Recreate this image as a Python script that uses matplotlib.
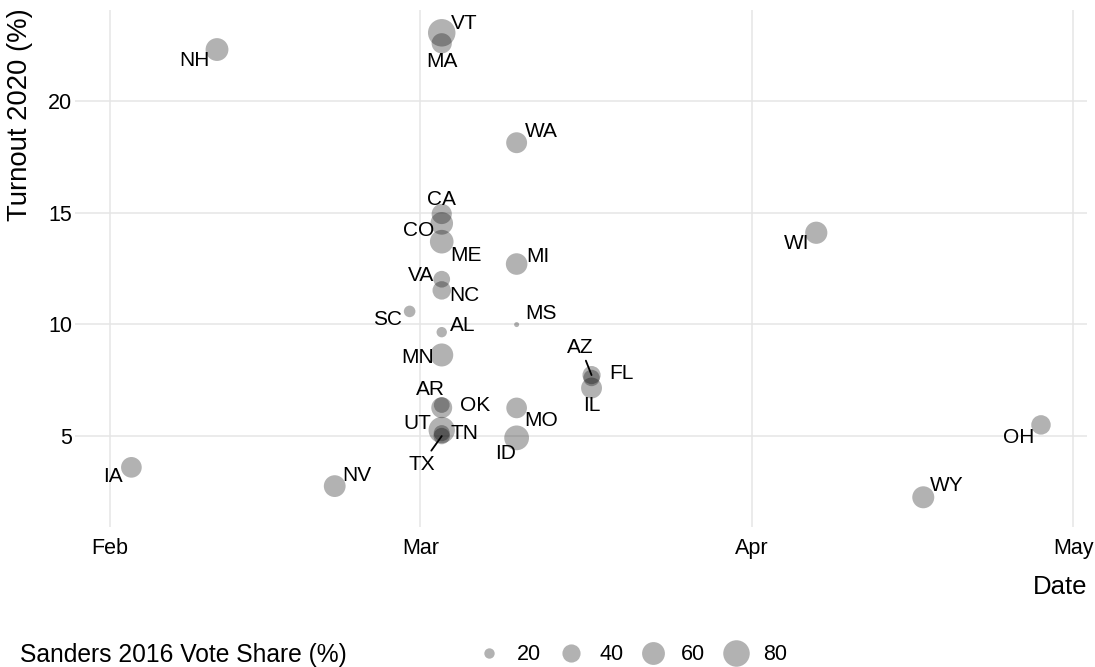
import matplotlib

matplotlib.use("Agg")

import matplotlib.dates as mdates
import matplotlib.pyplot as plt
import numpy as np
import pandas as pd
from matplotlib.lines import Line2D

plt.rcParams["font.family"] = ["Liberation Sans", "DejaVu Sans"]

# --- data ------------------------------------------------------------------
states = ["IA", "NH", "NV", "SC",
          "AL", "AR", "CA", "CO", "ME", "MA", "MN", "NC", "OK", "TN", "TX",
          "UT", "VT", "VA",
          "ID", "MI", "MS", "MO", "WA",
          "AZ", "FL", "IL",
          "WI", "WY", "OH"]
dates = ["2020-02-03", "2020-02-11", "2020-02-22", "2020-02-29",
         "2020-03-03", "2020-03-03", "2020-03-03", "2020-03-03", "2020-03-03",
         "2020-03-03", "2020-03-03", "2020-03-03", "2020-03-03", "2020-03-03",
         "2020-03-03", "2020-03-03", "2020-03-03", "2020-03-03",
         "2020-03-10", "2020-03-10", "2020-03-10", "2020-03-10", "2020-03-10",
         "2020-03-17", "2020-03-17", "2020-03-17",
         "2020-04-07", "2020-04-17", "2020-04-28"]
turnout = [3.6, 22.3, 2.76, 10.58,
           9.65, 6.39, 14.94, 14.52, 13.7, 22.58, 8.63, 11.52, 6.27, 5.13, 5.0,
           5.27, 23.05, 12.02,
           4.92, 12.7, 9.99, 6.26, 18.13,
           7.73, 7.6, 7.15,
           14.1, 2.26, 5.5]
sanders_2016 = [50, 60, 55, 22,
                20, 32, 48, 59, 64, 48, 61, 41, 51, 33, 34,
                79, 86, 35,
                70, 54, 16, 50, 51,
                40, 34, 51,
                57, 56, 45]
legend_breaks = [20, 40, 60, 80]

# label offsets from the point, in pixels (dx right, dy up)
label_offsets = {
    "IA": (-18, -9), "NH": (-23, -11), "NV": (22, 11), "SC": (-22, -8),
    "VT": (22, 9), "MA": (0, -18), "CA": (0, 14), "CO": (-23, -7),
    "ME": (24, -14), "VA": (-21, 4), "NC": (23, -5), "AL": (21, 7),
    "MN": (-24, -3), "AR": (-11, 16), "OK": (33, 2), "UT": (-24, 7),
    "TN": (23, 0), "TX": (-20, -28), "MI": (21, 8), "MS": (24, 11),
    "MO": (24, -13), "ID": (-11, -16), "WA": (25, 11), "AZ": (-11, 28),
    "FL": (30, 4), "IL": (0, -17), "WI": (-20, -11), "WY": (23, 12),
    "OH": (-22, -13),
}
leader_lines = {"TX", "AZ"}

x = pd.to_datetime(dates)
vmin, vmax = min(sanders_2016), max(sanders_2016)


def marker_diameter(v):
    # ggplot-style area scale: diameter 5..27.5 px
    frac = np.sqrt((np.asarray(v, dtype=float) - vmin) / (vmax - vmin))
    return (5 + 22.5 * frac) * 0.72  # points at 100 dpi


PX = 0.72  # one pixel in points at 100 dpi

fig = plt.figure(figsize=(10.95, 6.67), dpi=100)
ax = fig.add_axes([75 / 1095, 1 - 527 / 667, 1012 / 1095, 517 / 667])

ax.scatter(x, turnout, s=marker_diameter(sanders_2016) ** 2,
           color="black", alpha=0.3, linewidths=0, zorder=3)

for st, xi, yi in zip(states, x, turnout):
    dx, dy = label_offsets[st]
    arrow = None
    if st in leader_lines:
        arrow = dict(arrowstyle="-", color="black", lw=1.3, shrinkA=1, shrinkB=0)
    ax.annotate(st, (xi, yi), xytext=(dx * PX, dy * PX), textcoords="offset points",
                ha="center", va="center", fontsize=15, color="black",
                arrowprops=arrow, zorder=4)

ax.set_xlim(pd.Timestamp("2020-02-01") - pd.Timedelta(days=3.27),
            pd.Timestamp("2020-05-01") + pd.Timedelta(days=1.3))
ax.set_ylim(0.93, 24.07)
ax.xaxis.set_major_locator(mdates.MonthLocator())
ax.xaxis.set_major_formatter(mdates.DateFormatter("%b"))
ax.set_yticks([5, 10, 15, 20])

ax.grid(True, color="#e5e5e5", linewidth=1.1)
ax.set_axisbelow(True)
for sp in ax.spines.values():
    sp.set_visible(False)
ax.tick_params(length=0, labelsize=15.5, colors="black")
ax.tick_params(axis="x", pad=8)
ax.tick_params(axis="y", pad=2)

ax.set_xlabel("Date", fontsize=18.5, ha="right", va="top")
ax.xaxis.set_label_coords(1.0, -0.093)
# y label is drawn with rotation_mode="anchor": ha runs along the text
ax.set_ylabel("Turnout 2020 (%)", fontsize=19.8, ha="right", va="center")
ax.yaxis.set_label_coords(-0.0543, 1.004)

# size legend along the bottom
fig.text(20 / 1095, 1 - 655 / 667, "Sanders 2016 Vote Share (%)",
         fontsize=17.7, ha="left", va="center")
handles = [Line2D([], [], marker="o", linestyle="", markersize=marker_diameter(v),
                  markerfacecolor="black", markeredgewidth=0, alpha=0.3)
           for v in legend_breaks]
fig.legend(handles, [str(v) for v in legend_breaks], ncol=4, frameon=False,
           loc="center left", bbox_to_anchor=(478 / 1095, 1 - 655 / 667),
           fontsize=15.5, handlelength=1.0, handletextpad=0.8,
           columnspacing=0.9, borderpad=0, borderaxespad=0)

fig.savefig("out.png", dpi=100)
